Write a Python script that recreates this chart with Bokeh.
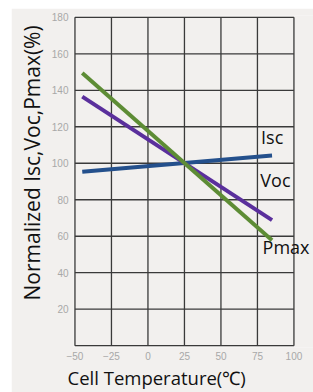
from bokeh.plotting import figure
from bokeh.models import FixedTicker, Range1d, Label, Title
from bokeh.embed import file_html
from bokeh.resources import INLINE

# data
temps = [-45, 85]
isc = [95.3, 104.2]
voc = [136.5, 68.8]
pmax = [149.5, 57.8]
series_names = ["Isc", "Voc", "Pmax"]
label_x = [77.5, 77.0, 78.5]
label_y = [114.5, 91.0, 54.0]
x_ticks = [-50, -25, 0, 25, 50, 75, 100]
x_tick_labels = ["\u221250", "\u221225", "0", "25", "50", "75", "100"]
y_ticks = [0, 20, 40, 60, 80, 100, 120, 140, 160, 180]
y_tick_labels = ["", "20", "40", "60", "80", "100", "120", "140", "160", "180"]
x_title = "Cell Temperature(\u2103)"
y_title = "Normalized Isc,Voc,Pmax(%)"

bg = "#f2f0ee"
p = figure(width=302, height=384, output_backend="svg", toolbar_location=None,
           x_range=Range1d(-51, 113.4), y_range=Range1d(-1, 181),
           min_border_left=62, min_border_right=0, min_border_top=7, min_border_bottom=45,
           margin=(8, 0, 0, 11))
p.background_fill_color = bg
p.border_fill_color = bg
p.outline_line_color = None
p.grid.visible = False

p.xaxis.ticker = FixedTicker(ticks=x_ticks)
p.yaxis.ticker = FixedTicker(ticks=y_ticks)
p.xaxis.major_label_overrides = dict(zip(x_ticks, x_tick_labels))
p.yaxis.major_label_overrides = dict(zip(y_ticks, y_tick_labels))

for ax in (p.xaxis, p.yaxis):
    ax.axis_line_color = None
    ax.major_tick_line_color = None
    ax.minor_tick_line_color = None
    ax.major_tick_out = 0
    ax.major_tick_in = 0
    ax.minor_tick_out = 0
    ax.major_label_text_color = "#a8a8a8"
    ax.major_label_text_font = "Liberation Sans"
    ax.major_label_text_font_size = "10px"
p.xaxis.major_label_standoff = 4
p.yaxis.major_label_standoff = 5

# grid and frame drawn from the tick arrays
grid_color = "#3a3a3a"
p.segment(x0=x_ticks, y0=[y_ticks[0]] * len(x_ticks), x1=x_ticks, y1=[y_ticks[-1]] * len(x_ticks),
          line_color=grid_color, line_width=1.3)
p.segment(x0=[x_ticks[0]] * len(y_ticks), y0=y_ticks, x1=[x_ticks[-1]] * len(y_ticks), y1=y_ticks,
          line_color=grid_color, line_width=1.3)

colors = ["#24508c", "#5a2f9c", "#5d8c35"]
for ys, c in zip([isc, voc, pmax], colors):
    p.line(temps, ys, line_color=c, line_width=4)

for name, lx, ly in zip(series_names, label_x, label_y):
    p.add_layout(Label(x=lx, y=ly, text=name, text_font="Open Sans", text_font_size="18px",
                       text_color="#111111", text_baseline="middle", text_align="left"))

p.add_layout(Title(text=y_title, align="left", offset=47, text_font="Open Sans",
                   text_font_size="21px", text_font_style="normal", text_color="#111111",
                   standoff=5), "left")
p.add_layout(Title(text=x_title, align="left", offset=-6, text_font="Open Sans",
                   text_font_size="18.5px", text_font_style="normal", text_color="#111111",
                   standoff=0), "below")

open("out.html", "w").write(file_html(p, INLINE))
